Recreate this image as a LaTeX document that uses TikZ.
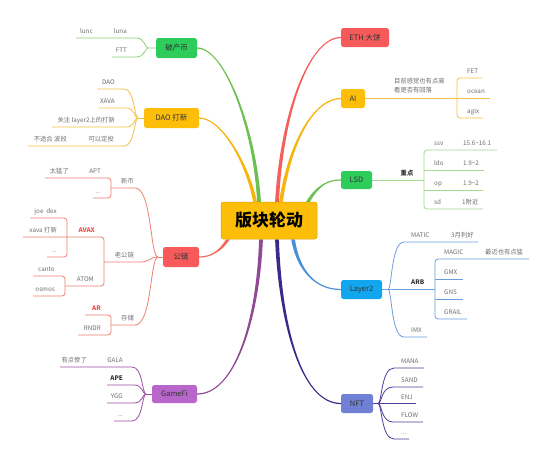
\documentclass[tikz,border=0pt]{standalone}
\usepackage{fontspec}
\newfontfamily\cjk{Noto Sans CJK SC}
\usetikzlibrary{backgrounds}
\definecolor{ndGreen}{HTML}{2DCC5B}
\definecolor{ndAmber}{HTML}{FDBE0A}
\definecolor{ndAmberD}{HTML}{D9A300}
\definecolor{ndRed}{HTML}{F65A5A}
\definecolor{ndPurple}{HTML}{B866CC}
\definecolor{ndBlue}{HTML}{12A6EF}
\definecolor{ndPeri}{HTML}{6F80D5}
\definecolor{brGreen}{HTML}{6CC04F}
\definecolor{brAmber}{HTML}{F6B50C}
\definecolor{brCoral}{HTML}{F26A5A}
\definecolor{brRed}{HTML}{F35F5A}
\definecolor{brPurple}{HTML}{8E4A94}
\definecolor{brBlue}{HTML}{4D8ED8}
\definecolor{brIndigo}{HTML}{382A8A}
\definecolor{sGreen}{HTML}{8DD07A}
\definecolor{sGreenL}{HTML}{A3D991}
\definecolor{sAmber}{HTML}{F5BE45}
\definecolor{sCoral}{HTML}{F07F70}
\definecolor{sPurple}{HTML}{9C4FA0}
\definecolor{sBlue}{HTML}{6A9EDD}
\definecolor{sIndigo}{HTML}{4D3F9B}
\definecolor{lgray}{HTML}{6E6E6E}
\definecolor{tdark}{HTML}{333333}
\definecolor{lred}{HTML}{EE4D45}
% tapered main branch: color, start, ctrl1, ctrl2, end, x-sign, y-sign
\newcommand\mbranch[7]{%
  \fill[#1] ([xshift={#6*1.9pt}]#2) .. controls ([xshift={#6*1.5pt}]#3) and ([yshift={#7*0.7pt}]#4) .. ([yshift={#7*0.6pt}]#5)
    -- ([yshift={#7*-0.6pt}]#5) .. controls ([yshift={#7*-0.7pt}]#4) and ([xshift={#6*-1.5pt}]#3) .. ([xshift={#6*-1.9pt}]#2) -- cycle;}
\begin{document}
\begin{tikzpicture}[x=1pt,y=-1pt,
  topic/.style={rectangle,rounded corners=2.5pt,inner sep=0pt,font=\cjk\fontsize{7.5}{9}\selectfont,text=tdark},
  lbl/.style={inner sep=0pt,font=\cjk\fontsize{6.3}{9}\selectfont,text=lgray},
  lw/.style={anchor=base west},
  le/.style={anchor=base east},
  bl/.style={font=\cjk\fontsize{6.3}{9}\selectfont\bfseries,text=tdark},
  rl/.style={font=\cjk\fontsize{6.3}{9}\selectfont\bfseries,text=lred},
  sub/.style={line width=0.8pt}]
\useasboundingbox (0,0) rectangle (553,464);
% main topics
\node[topic,fill=ndAmber,draw=ndAmberD,line width=0.5pt,minimum width=96pt,minimum height=37pt,font=\cjk\fontsize{17}{17}\selectfont\bfseries,text=black] (C) at (269,220.5) {版块轮动};
\node[topic,fill=ndGreen,minimum width=41pt,minimum height=20pt] (n1) at (176.5,48) {破产币};
\node[topic,fill=ndAmber,minimum width=55pt,minimum height=20pt] (n2) at (171.5,118) {DAO 打新};
\node[topic,fill=ndRed,minimum width=36pt,minimum height=20pt] (n3) at (181,257) {公链};
\node[topic,fill=ndPurple,minimum width=45pt,minimum height=18pt] (n4) at (174.5,394) {GameFi};
\node[topic,fill=ndRed,minimum width=48pt,minimum height=19pt] (n5) at (365,37.5) {ETH 大饼};
\node[topic,fill=ndAmber,minimum width=24pt,minimum height=19pt] (n6) at (353,98.5) {AI};
\node[topic,fill=ndGreen,minimum width=31pt,minimum height=18pt] (n7) at (356.5,180) {LSD};
\node[topic,fill=ndBlue,minimum width=41pt,minimum height=19pt] (n8) at (361.5,289.5) {Layer2};
\node[topic,fill=ndPeri,minimum width=32pt,minimum height=19pt] (n9) at (357,403.5) {NFT};
\coordinate (s1) at ([xshift=-10pt]C.north);
\coordinate (s2) at ([xshift=-14pt]C.north);
\coordinate (s5) at ([xshift=8pt]C.north);
\coordinate (s6) at ([xshift=12pt]C.north);
\coordinate (s7) at ([xshift=39pt]C.north);
\coordinate (s3) at ([xshift=-41pt]C.south);
\coordinate (s4) at ([xshift=-8pt]C.south);
\coordinate (s9) at ([xshift=8pt]C.south);
\coordinate (s8) at ([xshift=24pt]C.south);
% labels: 破产币
\node[lbl,le] (lluna) at (127,33.5) {luna};
\node[lbl,le] (llunc) at (93,33.5) {lunc};
\node[lbl,le] (lftt) at (127,52.5) {FTT};
% DAO
\node[lbl,le] (ldao) at (115,84.5) {DAO};
\node[lbl,le] (lxava) at (115,103.5) {XAVA};
\node[lbl,le] (lgz) at (115,122.5) {关注 layer2上的打新};
\node[lbl,le] (lkd) at (114,141.5) {可以定投};
\node[lbl,le] (lbs) at (67,141.5) {不适合 波段};
% 公链
\node[lbl,le] (lxb) at (134,183.5) {新币};
\node[lbl,le] (lapt) at (101,173.5) {APT};
\node[lbl,le] (ltm) at (69,173.5) {太猛了};
\node[lbl,le] (ld1) at (101,193.5) {...};
\node[lbl,le] (llg) at (134,257.5) {老公链};
\node[lbl,le,rl] (lavax) at (95,232.5) {AVAX};
\node[lbl,le] (ljoe) at (57,213.5) {joe\ \ dex};
\node[lbl,le] (lxd) at (57,232.5) {xava 打新};
\node[lbl,le] (ld2) at (57,252.5) {...};
\node[lbl,le] (latom) at (94,281.5) {ATOM};
\node[lbl,le] (lcanto) at (55,271.5) {canto};
\node[lbl,le] (losmos) at (55,291.5) {osmos};
\node[lbl,le] (lcc) at (134,320.5) {存储};
\node[lbl,le,rl] (lar) at (101,310.5) {AR};
\node[lbl,le] (lrndr) at (101,330.5) {RNDR};
% GameFi
\node[lbl,le] (lgala) at (123,362.5) {GALA};
\node[lbl,le] (lyd) at (87,362.5) {有点惨了};
\node[lbl,le,bl] (lape) at (123,380.5) {APE};
\node[lbl,le] (lygg) at (123,398.5) {YGG};
\node[lbl,le] (ld3) at (123,416.5) {...};
% AI
\node[lbl,anchor=north west,align=left] (lnote) at (394,78) {目前感觉也有点高\\看是否有回落};
\node[lbl,lw] (lfet) at (467,73.5) {FET};
\node[lbl,lw] (locean) at (467,93.5) {ocean};
\node[lbl,lw] (lagix) at (467,113.5) {agix};
% LSD
\node[lbl,anchor=base,bl] (lzd) at (407,175.5) {重点};
\node[lbl,lw] (lssv) at (434,145.5) {ssv};
\node[lbl,lw] (lssvv) at (463,145.5) {15.6\textasciitilde16.1};
\node[lbl,lw] (lldo) at (434,165.5) {ldo};
\node[lbl,lw] (lldov) at (463,165.5) {1.9\textasciitilde2};
\node[lbl,lw] (lop) at (434,185.5) {op};
\node[lbl,lw] (lopv) at (463,185.5) {1.9\textasciitilde2};
\node[lbl,lw] (lsd) at (434,204.5) {sd};
\node[lbl,lw] (lsdv) at (462,204.5) {1附近};
% Layer2
\node[lbl,lw] (lmatic) at (411,237.5) {MATIC};
\node[lbl,lw] (lmaticv) at (451,237.5) {3月利好};
\node[lbl,lw,bl] (larb) at (411,284.5) {ARB};
\node[lbl,lw] (lmagic) at (444,254.5) {MAGIC};
\node[lbl,lw] (lmagicv) at (485,254.5) {最近也有点猛};
\node[lbl,lw] (lgmx) at (444,274.5) {GMX};
\node[lbl,lw] (lgns) at (444,294.5) {GNS};
\node[lbl,lw] (lgrail) at (444,314.5) {GRAIL};
\node[lbl,lw] (limx) at (411,332.5) {IMX};
% NFT
\node[lbl,lw] (lmana) at (401,363.5) {MANA};
\node[lbl,lw] (lsand) at (401,382.5) {SAND};
\node[lbl,lw] (lenj) at (401,399.5) {ENJ};
\node[lbl,lw] (lflow) at (401,417.5) {FLOW};
\node[lbl,lw] (ld4) at (401,434.5) {...};
\begin{pgfonlayer}{background}
\fill[white] (0,0) rectangle (553,464);
% main branches
\mbranch{brGreen}{s1}{255,130}{225,48}{n1.east}{1}{1}
\mbranch{brAmber}{s2}{248,165}{222,118}{n2.east}{1}{1}
\mbranch{brCoral}{s3}{220,252}{210,257}{n3.east}{-1}{1}
\mbranch{brPurple}{s4}{258,320}{235,394}{n4.east}{-1}{1}
\mbranch{brRed}{s5}{282,110}{310,37.5}{n5.west}{1}{-1}
\mbranch{brAmber}{s6}{290,140}{315,98.5}{n6.west}{1}{-1}
\mbranch{brGreen}{s7}{318,185}{328,180}{n7.west}{1}{-1}
\mbranch{brBlue}{s8}{298,270}{315,289.5}{n8.west}{1}{1}
\mbranch{brIndigo}{s9}{280,320}{300,403.5}{n9.west}{1}{1}
% 破产币
\draw[sub,sGreen] (n1.west) -- (148,48) .. controls (145,48) and (145,38) .. (136,38) -- (76,38);
\draw[sub,sGreen] (148,48) .. controls (145,48) and (145,57) .. (136,57) -- (112,57);
% DAO
\draw[sub,sAmber] (n2.west) -- (138,118);
\draw[sub,sAmber] (138,118) .. controls (134,118) and (135,89) .. (124,89) -- (97,89);
\draw[sub,sAmber] (138,118) .. controls (134,118) and (135,108) .. (126,108) -- (99,108);
\draw[sub,sAmber] (138,118) .. controls (134,118) and (135,127) .. (126,127) -- (52,127);
\draw[sub,sAmber] (138,118) .. controls (134,118) and (135,146) .. (124,146) -- (28,146);
% 公链
\draw[sub,sCoral] (n3.west) -- (158,257);
\draw[sub,sCoral] (158,257) .. controls (150,257) and (152,188) .. (135,188) -- (111,188);
\draw[sub,sCoral] (158,257) .. controls (150,257) and (152,325) .. (135,325) -- (111,325);
\draw[sub,sCoral] (158,257) .. controls (150,257) and (150,262) .. (140,262) -- (104,262);
\draw[sub,sCoral,rounded corners=3pt] (45,178) -| (111,198) -- (93,198);
\draw[sub,sCoral,rounded corners=3pt] (85,315) -| (111,335) -- (78,335);
\draw[sub,sCoral,rounded corners=3pt] (23,237) -| (104,286) -- (65,286);
\draw[sub,sCoral,rounded corners=3pt] (30,218) -| (67,257) -- (47,257);
\draw[sub,sCoral,rounded corners=3pt] (33,276) -| (65,296) -- (33,296);
% GameFi
\draw[sub,sPurple] (n4.west) -- (146,394);
\draw[sub,sPurple] (146,394) .. controls (142,394) and (143,367) .. (132,367) -- (60,367);
\draw[sub,sPurple] (146,394) .. controls (142,394) and (143,385) .. (134,385) -- (107,385);
\draw[sub,sPurple] (146,394) .. controls (142,394) and (143,403) .. (134,403) -- (107,403);
\draw[sub,sPurple] (146,394) .. controls (142,394) and (143,421) .. (132,421) -- (114,421);
% AI
\draw[sub,sAmber] (n6.east) -- (490,98.5);
\draw[sub,sAmber,rounded corners=3pt] (482,78) -| (457,118) -- (483,118);
% LSD
\draw[sub,sGreenL] (n7.east) -- (424,180);
\draw[sub,sGreenL,rounded corners=3pt] (497,150) -| (424,209) -- (483,209);
\draw[sub,sGreenL] (424,170) -- (484,170);
\draw[sub,sGreenL] (424,190) -- (483,190);
% Layer2
\draw[sub,sBlue] (n8.east) -- (435,289.5);
\draw[sub,sBlue] (388,289.5) .. controls (392,289.5) and (391,242) .. (404,242) -- (478,242);
\draw[sub,sBlue] (388,289.5) .. controls (392,289.5) and (391,337) .. (404,337) -- (427,337);
\draw[sub,sBlue,rounded corners=3pt] (529,259) -| (435,319) -- (467,319);
\draw[sub,sBlue] (435,279) -- (463,279);
\draw[sub,sBlue] (435,299) -- (463,299);
% NFT
\draw[sub,sIndigo] (n9.east) -- (416,403.5);
\draw[sub,sIndigo] (378,403.5) .. controls (382,403.5) and (381,368) .. (394,368) -- (424,368);
\draw[sub,sIndigo] (378,403.5) .. controls (382,403.5) and (381,387) .. (393,387) -- (423,387);
\draw[sub,sIndigo] (378,403.5) .. controls (382,403.5) and (381,422) .. (393,422) -- (423,422);
\draw[sub,sIndigo] (378,403.5) .. controls (382,403.5) and (381,439) .. (394,439) -- (409,439);
\end{pgfonlayer}
\end{tikzpicture}
\end{document}
